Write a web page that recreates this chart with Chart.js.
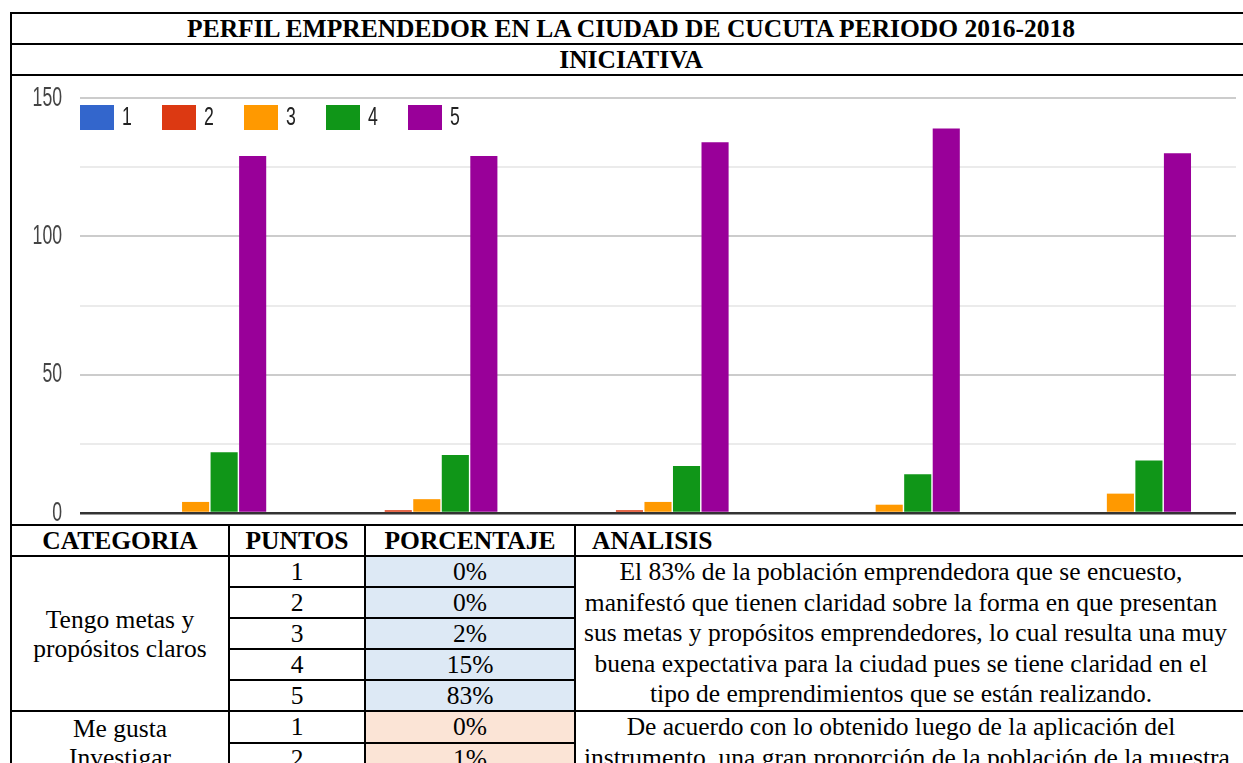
<!DOCTYPE html>
<html lang="es">
<head>
<meta charset="utf-8">
<title>Perfil emprendedor - Iniciativa</title>
<script src="https://cdn.jsdelivr.net/npm/chart.js@4.4.0/dist/chart.umd.min.js"></script>
<style>
  html, body { margin: 0; padding: 0; background: #fff; overflow: hidden; }
  body { width: 1243px; height: 763px; position: relative; }
  table.doc {
    position: absolute; left: 10px; top: 12px;
    width: 1240px; border-collapse: collapse; table-layout: fixed;
    font-family: 'Liberation Serif', 'Times New Roman', serif;
    font-size: 25.5px; color: #000;
  }
  table.doc td {
    border: 2px solid #000; padding: 0 8px; text-align: center;
    line-height: 29px; height: 29px; vertical-align: middle; white-space: nowrap;
  }
  table.doc .negrita td { font-weight: bold; }
  table.doc .sub td { height: 28px; }
  table.doc .grafico td { padding: 0; height: 448px; }
  #chartBox { position: relative; width: 100%; height: 448px; }
  table.doc td.izq { text-align: left; padding-left: 16px; }
  table.doc td.analisis { line-height: 30.5px; padding-right: 32px; }
  table.doc td.pct-a { background: #dde9f5; }
  table.doc td.pct-b { background: #fbe4d6; }
</style>
</head>
<body>
<table class="doc">
  <colgroup>
    <col style="width:218px"><col style="width:136px"><col style="width:210px"><col style="width:676px">
  </colgroup>
  <tr class="negrita"><td colspan="4">PERFIL EMPRENDEDOR EN LA CIUDAD DE CUCUTA PERIODO 2016-2018</td></tr>
  <tr class="negrita sub"><td colspan="4">INICIATIVA</td></tr>
  <tr class="grafico"><td colspan="4"><div id="chartBox"><canvas id="grafico"></canvas></div></td></tr>
  <tr class="negrita"><td>CATEGORIA</td><td>PUNTOS</td><td>PORCENTAJE</td><td class="izq">ANALISIS</td></tr>
  <tr>
    <td rowspan="5">Tengo metas y<br>propósitos claros</td><td>1</td><td class="pct-a">0%</td>
    <td rowspan="5" class="analisis">El 83% de la población emprendedora que se encuesto,<br>manifestó que tienen claridad sobre la forma en que presentan<br>sus metas y propósitos emprendedores, lo cual resulta una muy<br>buena expectativa para la ciudad pues se tiene claridad en el<br>tipo de emprendimientos que se están realizando.</td>
  </tr>
  <tr><td>2</td><td class="pct-a">0%</td></tr>
  <tr><td>3</td><td class="pct-a">2%</td></tr>
  <tr><td>4</td><td class="pct-a">15%</td></tr>
  <tr><td>5</td><td class="pct-a">83%</td></tr>
  <tr>
    <td rowspan="2">Me gusta<br>Investigar</td><td>1</td><td class="pct-b">0%</td>
    <td rowspan="2" class="analisis">De acuerdo con lo obtenido luego de la aplicación del<br>instrumento, una gran proporción de la población de la muestra</td>
  </tr>
  <tr><td>2</td><td class="pct-b">1%</td></tr>
</table>

<script>
// Preguntas de la dimensión "Iniciativa"
const preguntas = ['Tengo metas y propósitos claros', 'Me gusta investigar', 'Pregunta 3', 'Pregunta 4', 'Pregunta 5'];

// Puntaje de la escala (1 a 5) y su color
const puntos = ['1', '2', '3', '4', '5'];
const colores = ['#3366cc', '#dc3912', '#ff9900', '#109618', '#990099'];

// Número de personas que dieron cada puntaje, por pregunta
const puntaje1 = [0, 0, 0, 0, 0];
const puntaje2 = [0, 1, 1, 0, 0];
const puntaje3 = [4, 5, 4, 3, 7];
const puntaje4 = [22, 21, 17, 14, 19];
const puntaje5 = [129, 129, 134, 139, 130];

// Valores del eje Y con etiqueta
const ticksY = [0, 50, 100, 150];

const series = [puntaje1, puntaje2, puntaje3, puntaje4, puntaje5];

// Texto angosto (la gráfica de Google Forms quedó comprimida a lo ancho)
function textoAngosto(ctx, texto, x, y, align, escala) {
    ctx.save();
    ctx.translate(x, y);
    ctx.scale(escala, 1);
    ctx.textAlign = align;
    ctx.textBaseline = 'middle';
    ctx.fillText(texto, 0, 0);
    ctx.restore();
}

// Etiquetas del eje Y y leyenda dentro del área de la gráfica
const etiquetas = {
    id: 'etiquetas',
    afterDraw(chart) {
        const ctx = chart.ctx;
        const area = chart.chartArea;
        const escalaY = chart.scales.y;

        ctx.font = '28px "Liberation Sans", Arial, sans-serif';
        ctx.fillStyle = '#444';
        ticksY.forEach(v => {
            textoAngosto(ctx, String(v), area.left - 18, escalaY.getPixelForValue(v), 'right', 0.63);
        });

        ctx.font = '26px "Liberation Sans", Arial, sans-serif';
        chart.data.datasets.forEach((ds, i) => {
            const x = area.left + i * 82;
            const top = area.top + 7;
            ctx.fillStyle = ds.backgroundColor;
            ctx.fillRect(x, top, 34, 25);
            ctx.fillStyle = '#222';
            textoAngosto(ctx, ds.label, x + 42, top + 13, 'left', 0.68);
        });
    }
};

new Chart(document.getElementById('grafico'), {
    type: 'bar',
    data: {
        labels: preguntas,
        datasets: series.map((valores, i) => ({
            label: puntos[i],
            data: valores,
            backgroundColor: colores[i],
            borderWidth: 0,
            barPercentage: 0.95,
            categoryPercentage: 0.617
        }))
    },
    options: {
        responsive: true,
        maintainAspectRatio: false,
        animation: false,
        layout: { padding: { top: 22, right: 14, bottom: 11, left: 0 } },
        plugins: {
            legend: { display: false },
            tooltip: { enabled: false }
        },
        scales: {
            x: { display: false },
            y: {
                min: 0,
                max: 150,
                afterFit: s => { s.width = 68; },
                ticks: { stepSize: 25, display: false },
                border: { display: false },
                grid: {
                    drawTicks: false,
                    color: c => c.tick.value === 0 ? '#333' : (c.tick.value % 50 === 0 ? '#cccccc' : '#ebebeb'),
                    lineWidth: c => c.tick.value === 0 ? 2.5 : 2
                }
            }
        }
    },
    plugins: [etiquetas]
});
</script>
</body>
</html>
